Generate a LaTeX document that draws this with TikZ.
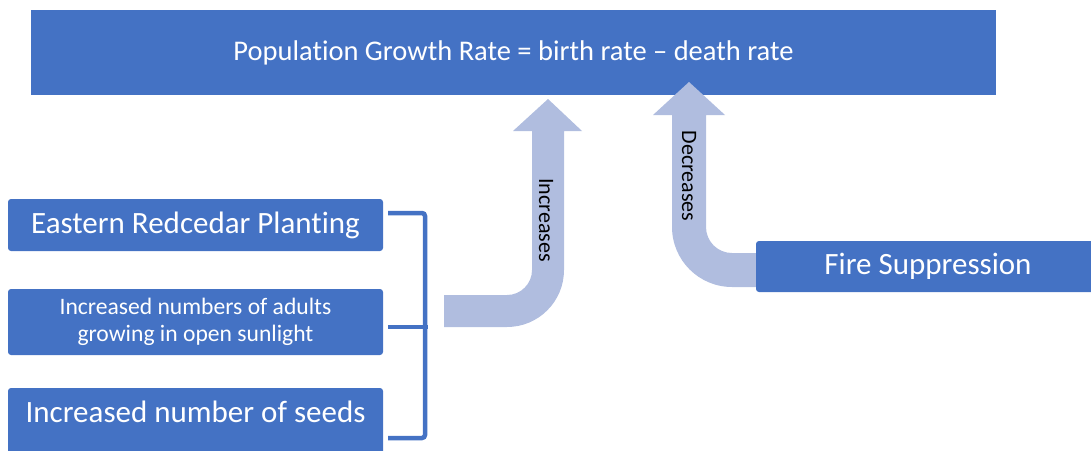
\documentclass[tikz,border=0pt]{standalone}
\usepackage{fontspec}
\setmainfont[Ligatures={TeX,NoCommon}]{Carlito}
\definecolor{boxblue}{RGB}{68,114,196}
\definecolor{arrowblue}{RGB}{176,189,223}
\begin{document}
\begin{tikzpicture}[x=1pt,y=-1pt,
  box/.style={fill=boxblue, text=white, rounded corners=3pt, inner sep=0pt, align=center},
  bigarrow/.style={fill=arrowblue},
  arrowlabel/.style={text=black, rotate=-90, inner sep=0pt, font=\fontsize{22}{26}\selectfont},
  bracket/.style={draw=boxblue, line width=4.5pt, rounded corners=3pt}]
\useasboundingbox (0,0) rectangle (1091,450);

% top box
\node[box, rounded corners=0pt, minimum width=965pt, minimum height=85pt,
      font=\fontsize{28.5}{34}\selectfont] (rate) at (513.5,52.5)
  {Population Growth Rate = birth rate \textendash{} death rate};

% left boxes
\node[box, minimum width=375pt, minimum height=52pt,
      font=\fontsize{31}{36}\selectfont] (plant) at (195.5,225)
  {Eastern Redcedar Planting};
\node[box, minimum width=375pt, minimum height=66pt,
      font=\fontsize{23.6}{27}\selectfont] (adults) at (195.5,322)
  {Increased numbers of adults\\growing in open sunlight};
\node[box, minimum width=375pt, minimum height=82pt] (seeds) at (195.5,429) {};
\node[text=white, inner sep=0pt, font=\fontsize{31}{36}\selectfont] (seedstext) at (195.5,412)
  {Increased number of seeds};

% bracket
\coordinate (bt) at (388,213);
\coordinate (bm) at (388,327);
\coordinate (bb) at (388,438);
\draw[bracket] (bt) -- (425,213) -- (425,438) -- (bb);
\draw[bracket, rounded corners=0pt] (bm) -- (428,327);

% increases arrow
\fill[bigarrow] (444,295) -- (507,295)
  .. controls (520.8,295) and (532,283.8) .. (532,270)
  -- (532,131) -- (513,131) -- (548,99) -- (582,131) -- (564,131) -- (564,270)
  .. controls (564,301.5) and (538.5,327) .. (507,327)
  -- (444,327) -- cycle;
\node[arrowlabel] (inc) at (546,220) {Increases};

% decreases arrow
\fill[bigarrow] (689,82) -- (725,115) -- (706,115) -- (706,227)
  .. controls (706,241.4) and (717.6,253) .. (732,253)
  -- (760,253) -- (760,287) -- (732,287)
  .. controls (698.9,287) and (672,260.1) .. (672,227)
  -- (672,115) -- (653,115) -- cycle;
\node[arrowlabel] (dec) at (689,176) {Decreases};

% fire suppression box (on top of the arrow tail)
\node[box, minimum width=344pt, minimum height=51pt,
      font=\fontsize{31}{36}\selectfont] (fire) at (928,266.5)
  {Fire Suppression};
\end{tikzpicture}
\end{document}
